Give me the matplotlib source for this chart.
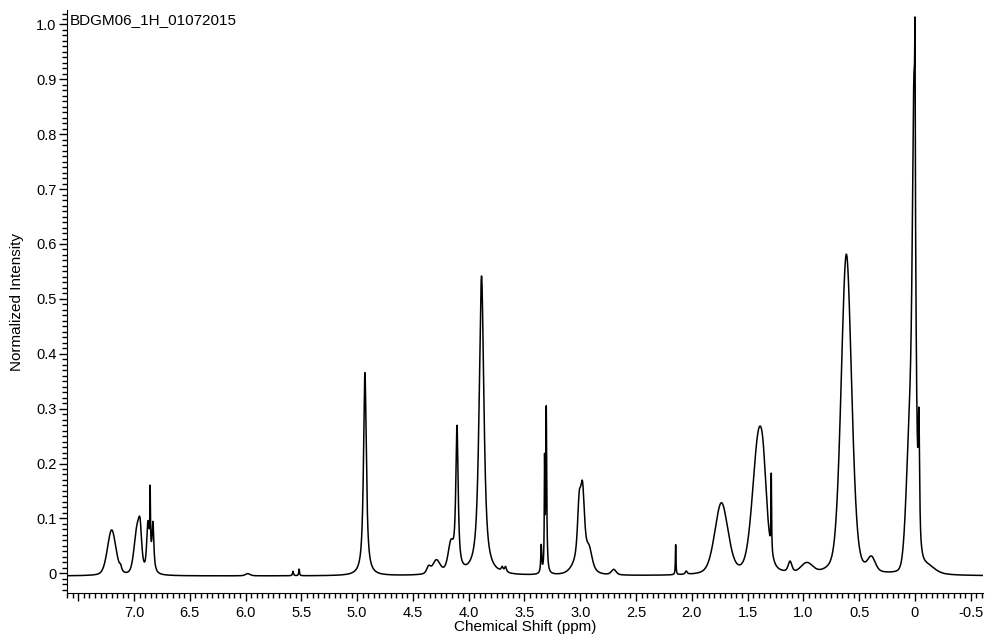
import numpy as np
import matplotlib.pyplot as plt
from matplotlib.ticker import MultipleLocator

plt.rcParams['font.family'] = ['Liberation Sans', 'DejaVu Sans']

# Peak list (ppm, normalized height, FWHM in ppm, Lorentzian fraction)
peak_ppm = [7.20, 7.12, 6.97, 6.945, 6.875, 6.855, 6.855, 6.83,
            5.98, 5.575, 5.52,
            4.93, 4.36, 4.29, 4.16, 4.105, 3.885, 3.70, 3.67,
            3.35, 3.32, 3.305, 3.01, 2.98, 2.99, 2.92, 2.70,
            2.145, 2.05, 1.735, 1.40, 1.36, 1.288, 1.12, 0.97,
            0.615, 0.39, 0.04, 0.008, 0.0, -0.035, -0.12]
peak_height = [0.083, 0.008, 0.085, 0.045, 0.07, 0.03, 0.11, 0.075,
               0.004, 0.008, 0.012,
               0.37, 0.012, 0.025, 0.05, 0.26, 0.545, 0.008, 0.01,
               0.05, 0.19, 0.30, 0.09, 0.12, 0.03, 0.03, 0.01,
               0.055, 0.006, 0.13, 0.25, 0.05, 0.14, 0.02, 0.018,
               0.585, 0.025, 0.25, 0.72, 0.27, 0.21, 0.012]
peak_fwhm = [0.09, 0.02, 0.065, 0.03, 0.025, 0.06, 0.006, 0.018,
             0.05, 0.01, 0.008,
             0.03, 0.04, 0.08, 0.06, 0.025, 0.05, 0.02, 0.02,
             0.01, 0.006, 0.01, 0.035, 0.04, 0.15, 0.06, 0.05,
             0.006, 0.02, 0.14, 0.13, 0.06, 0.006, 0.04, 0.12,
             0.11, 0.08, 0.08, 0.035, 0.006, 0.014, 0.15]
peak_eta = [0.3, 1.0, 0.3, 0.5, 0.5, 0.5, 1.0, 0.8,
            0.5, 1.0, 1.0,
            0.9, 0.5, 0.5, 0.5, 0.9, 0.8, 1.0, 1.0,
            1.0, 1.0, 1.0, 0.6, 0.6, 0.3, 0.5, 0.5,
            1.0, 1.0, 0.3, 0.3, 0.5, 1.0, 0.5, 0.0,
            0.3, 0.3, 0.0, 0.6, 1.0, 0.8, 0.5]
baseline = -0.005

ppm = np.linspace(7.62, -0.62, 16000)
intensity = np.full_like(ppm, baseline)
for c, h, w, eta in zip(peak_ppm, peak_height, peak_fwhm, peak_eta):
    d = (ppm - c) / (w / 2)
    intensity += h * (eta / (1 + d**2) + (1 - eta) * np.exp(-np.log(2) * d**2))


def ppm_label(v, pos):
    if v > 7.25:
        return ''
    return '0' if abs(v) < 1e-9 else f'{v:.1f}'


fig = plt.figure(figsize=(9.86, 6.38), dpi=100)
ax = fig.add_axes([0.068, 0.0705, 0.929, 0.9135])

ax.plot(ppm, intensity, color='black', lw=1.1)

ax.set_xlim(7.6, -0.61)
ax.set_ylim(-0.036, 1.026)
ax.xaxis.set_major_locator(MultipleLocator(0.5))
ax.xaxis.set_minor_locator(MultipleLocator(0.05))
ax.yaxis.set_major_locator(MultipleLocator(0.1))
ax.yaxis.set_minor_locator(MultipleLocator(0.01))
ax.xaxis.set_major_formatter(ppm_label)
ax.yaxis.set_major_formatter(lambda v, p: '0' if abs(v) < 1e-9 else f'{v:.1f}')

for side in ['top', 'right']:
    ax.spines[side].set_visible(False)
ax.tick_params(which='major', length=6, width=1, labelsize=10.5, color='black')
ax.tick_params(which='minor', length=3.6, width=1)
ax.tick_params(axis='y', pad=1.5)
ax.tick_params(axis='x', pad=3)

ax.set_xlabel('Chemical Shift (ppm)', fontsize=11, labelpad=0)
ax.set_ylabel('Normalized Intensity', fontsize=11, labelpad=9)
ax.text(0.003, 0.995, 'BDGM06_1H_01072015', transform=ax.transAxes,
        fontsize=11, va='top', ha='left')

fig.savefig('out.png', dpi=100)
